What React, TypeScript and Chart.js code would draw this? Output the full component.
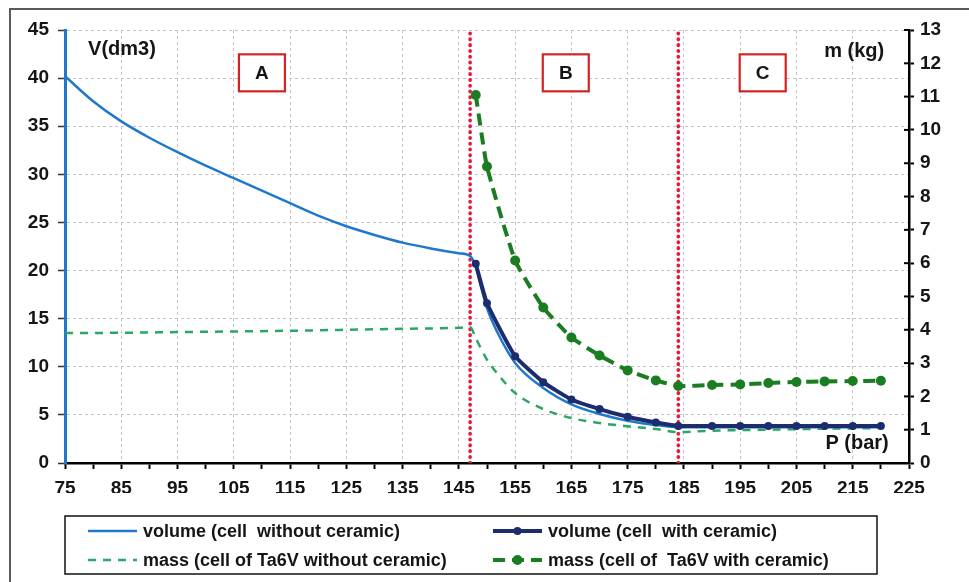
import React, { useEffect, useRef } from 'react';
import { Chart, registerables } from 'chart.js';

Chart.register(...registerables);

// ---- axis ticks ----
const xLabelTicks = [75, 85, 95, 105, 115, 125, 135, 145, 155, 165, 175, 185, 195, 205, 215, 225];
const yLeftTicks = [0, 5, 10, 15, 20, 25, 30, 35, 40, 45];
const yRightTicks = [0, 1, 2, 3, 4, 5, 6, 7, 8, 9, 10, 11, 12, 13];

// ---- volume (cell without ceramic) ----
const pVolNoCer = [75, 80, 85, 90, 95, 100, 105, 110, 115, 120, 125, 130, 135, 140, 145, 147, 148, 149, 150, 152, 155, 160, 165, 170, 175, 180, 184, 190, 200, 210, 220];
const vVolNoCer = [40.2, 37.6, 35.5, 33.8, 32.3, 30.9, 29.6, 28.3, 27.0, 25.7, 24.6, 23.7, 22.9, 22.3, 21.8, 21.5, 20.4, 18.2, 16.1, 13.4, 10.4, 7.8, 6.1, 5.1, 4.4, 3.95, 3.72, 3.72, 3.72, 3.72, 3.72];

// ---- volume (cell with ceramic) ----
const pCer = [148, 150, 155, 160, 165, 170, 175, 180, 184, 190, 195, 200, 205, 210, 215, 220];
const vVolCer = [20.7, 16.6, 11.1, 8.4, 6.6, 5.6, 4.8, 4.2, 3.85, 3.85, 3.85, 3.85, 3.85, 3.85, 3.85, 3.85];

// ---- mass (cell of Ta6V without ceramic) ----
const pMassNoCer = [75, 85, 95, 105, 115, 125, 135, 145, 147, 148, 150, 152, 155, 160, 165, 170, 175, 180, 184, 190, 200, 210, 220];
const mMassNoCer = [3.9, 3.91, 3.93, 3.95, 3.97, 4.0, 4.03, 4.06, 4.08, 3.75, 3.1, 2.65, 2.1, 1.62, 1.35, 1.2, 1.1, 1.02, 0.93, 0.97, 1.0, 1.03, 1.05];

// ---- mass (cell of Ta6V with ceramic) ----
const mMassCer = [11.05, 8.9, 6.08, 4.67, 3.77, 3.23, 2.78, 2.48, 2.31, 2.34, 2.36, 2.4, 2.43, 2.45, 2.46, 2.47];

// ---- zone boundaries and labels ----
const zoneBounds = [147, 184];
const zoneLabels = ['A', 'B', 'C'];
const zoneLabelP = [110, 164, 199];
const zoneLabelV = 40.6;

const legendLabels = [
  'volume (cell  without ceramic)',
  'volume (cell  with ceramic)',
  'mass (cell of Ta6V without ceramic)',
  'mass (cell of  Ta6V with ceramic)',
];

const FONT = '"Liberation Sans", Arial, Helvetica, sans-serif';
const TEXT = '#151515';

const toXY = (xs: number[], ys: number[]) => xs.map((x, i) => ({ x, y: ys[i] }));

const decorPlugin = {
  id: 'decor',
  beforeDraw(chart: any) {
    const { ctx } = chart;
    ctx.save();
    ctx.fillStyle = '#ffffff';
    ctx.fillRect(0, 0, chart.width, chart.height);
    ctx.restore();
  },
  afterDraw(chart: any) {
    const { ctx, scales } = chart;
    const x = scales.x, y = scales.y, y2 = scales.y2;
    ctx.save();

    // outer frame (left & top edges)
    ctx.strokeStyle = '#5a5a5a';
    ctx.lineWidth = 2;
    ctx.beginPath();
    ctx.moveTo(10, chart.height);
    ctx.lineTo(10, 9);
    ctx.lineTo(chart.width, 9);
    ctx.stroke();

    // right axis ticks crossing inward
    ctx.strokeStyle = '#000';
    ctx.lineWidth = 2;
    yRightTicks.forEach((v) => {
      const py = y2.getPixelForValue(v);
      ctx.beginPath();
      ctx.moveTo(y2.left - 5, py);
      ctx.lineTo(y2.left, py);
      ctx.stroke();
    });

    // zone boxes
    zoneLabels.forEach((lab, i) => {
      const cx = x.getPixelForValue(zoneLabelP[i]);
      const cy = y.getPixelForValue(zoneLabelV);
      ctx.fillStyle = '#fff';
      ctx.fillRect(cx - 23, cy - 18, 46, 37);
      ctx.strokeStyle = '#d42222';
      ctx.lineWidth = 2.2;
      ctx.strokeRect(cx - 23, cy - 18, 46, 37);
      ctx.fillStyle = TEXT;
      ctx.font = `bold 19px ${FONT}`;
      ctx.textAlign = 'center';
      ctx.textBaseline = 'middle';
      ctx.fillText(lab, cx, cy + 1);
    });

    // axis titles
    ctx.fillStyle = TEXT;
    ctx.font = `bold 20px ${FONT}`;
    ctx.textBaseline = 'middle';
    ctx.textAlign = 'left';
    ctx.fillText('V(dm3)', x.getPixelForValue(79.1), y.getPixelForValue(43));
    ctx.textAlign = 'right';
    ctx.fillText('m (kg)', x.getPixelForValue(220.6), y2.getPixelForValue(12.35));
    ctx.fillText('P (bar)', x.getPixelForValue(221.4), y2.getPixelForValue(0.6));

    // legend
    const lx0 = 65, ly0 = 516, lx1 = 877, ly1 = 574;
    ctx.strokeStyle = '#111';
    ctx.lineWidth = 1.5;
    ctx.strokeRect(lx0, ly0, lx1 - lx0, ly1 - ly0);
    const cols = [88, 493];
    const rows = [531, 560];
    const slots = [
      [0, 0],
      [1, 0],
      [0, 1],
      [1, 1],
    ];
    ctx.font = `bold 18px ${FONT}`;
    slots.forEach(([c, r], i) => {
      const ds = chart.data.datasets[i];
      const sx = cols[c], sy = rows[r];
      ctx.save();
      ctx.strokeStyle = ds.borderColor;
      ctx.lineWidth = ds.borderWidth;
      ctx.setLineDash(ds.borderDash || []);
      ctx.beginPath();
      ctx.moveTo(sx, sy);
      ctx.lineTo(sx + 49, sy);
      ctx.stroke();
      ctx.restore();
      if (ds.pointRadius > 0) {
        ctx.fillStyle = ds.borderColor;
        ctx.beginPath();
        ctx.arc(sx + 24.5, sy, ds.pointRadius, 0, Math.PI * 2);
        ctx.fill();
      }
      ctx.fillStyle = TEXT;
      ctx.textAlign = 'left';
      ctx.textBaseline = 'middle';
      ctx.fillText(legendLabels[i], sx + 55, sy + 1);
    });

    ctx.restore();
  },
};

export default function App() {
  const ref = useRef<HTMLCanvasElement>(null);

  useEffect(() => {
    const minorTicks: number[] = [];
    for (let i = 0; i < xLabelTicks.length; i++) {
      minorTicks.push(xLabelTicks[i]);
      if (i < xLabelTicks.length - 1) minorTicks.push((xLabelTicks[i] + xLabelTicks[i + 1]) / 2);
    }

    const zoneDatasets = zoneBounds.map((b) => ({
      label: 'zone',
      data: [
        { x: b, y: 0 },
        { x: b, y: 45 },
      ],
      yAxisID: 'y',
      borderColor: '#e8173c',
      borderWidth: 3.6,
      borderDash: [0.5, 5.3],
      borderCapStyle: 'round',
      pointRadius: 0,
      order: 6,
    }));

    const tickFont = { family: FONT, size: 19, weight: 'bold' };

    const chart = new Chart(ref.current as HTMLCanvasElement, {
      type: 'line',
      data: {
        datasets: [
          {
            label: legendLabels[0],
            data: toXY(pVolNoCer, vVolNoCer),
            yAxisID: 'y',
            borderColor: '#1f78cc',
            borderWidth: 2.5,
            pointRadius: 0,
            cubicInterpolationMode: 'monotone',
            order: 3,
          },
          {
            label: legendLabels[1],
            data: toXY(pCer, vVolCer),
            yAxisID: 'y',
            borderColor: '#1c2c6c',
            backgroundColor: '#1c2c6c',
            pointBackgroundColor: '#1c2c6c',
            pointBorderWidth: 0,
            borderWidth: 4,
            pointRadius: 4,
            tension: 0.15,
            order: 1,
          },
          {
            label: legendLabels[2],
            data: toXY(pMassNoCer, mMassNoCer),
            yAxisID: 'y2',
            borderColor: '#2aa765',
            borderWidth: 2.5,
            borderDash: [8, 7],
            pointRadius: 0,
            cubicInterpolationMode: 'monotone',
            order: 4,
          },
          {
            label: legendLabels[3],
            data: toXY(pCer, mMassCer),
            yAxisID: 'y2',
            borderColor: '#1b7d22',
            backgroundColor: '#1b7d22',
            pointBackgroundColor: '#1b7d22',
            pointBorderWidth: 0,
            borderWidth: 4,
            borderDash: [12, 7],
            pointRadius: 5,
            tension: 0.15,
            order: 2,
          },
          ...zoneDatasets,
        ] as any,
      },
      options: {
        animation: false,
        responsive: false,
        maintainAspectRatio: false,
        events: [],
        layout: { padding: { top: 30, left: 0, right: 0, bottom: 89 } },
        plugins: {
          legend: { display: false },
          tooltip: { enabled: false },
        },
        scales: {
          x: {
            type: 'linear',
            min: 75,
            max: 225,
            afterBuildTicks: (s: any) => {
              s.ticks = minorTicks.map((v) => ({ value: v }));
            },
            afterFit: (s: any) => {
              s.height = 30;
            },
            ticks: {
              autoSkip: false,
              maxRotation: 0,
              padding: 8,
              color: TEXT,
              font: tickFont,
              callback: (v: any) => (xLabelTicks.includes(Number(v)) ? String(v) : ''),
            },
            grid: {
              color: (c: any) =>
                c.tick && xLabelTicks.includes(c.tick.value) ? '#c4c4c4' : 'rgba(0,0,0,0)',
              lineWidth: 1,
              tickColor: '#000',
              tickLength: 6,
              tickWidth: 2,
            },
            border: { color: '#000', width: 2.5, dash: [3, 3] },
          },
          y: {
            type: 'linear',
            position: 'left',
            min: 0,
            max: 45,
            afterBuildTicks: (s: any) => {
              s.ticks = yLeftTicks.map((v) => ({ value: v }));
            },
            afterFit: (s: any) => {
              s.width = 65;
            },
            ticks: {
              padding: 9,
              color: TEXT,
              font: tickFont,
            },
            grid: {
              color: '#c4c4c4',
              lineWidth: 1,
              tickColor: '#333',
              tickLength: 7,
              tickWidth: 1.5,
            },
            border: { color: '#1f78cc', width: 3, dash: [3, 3] },
          },
          y2: {
            type: 'linear',
            position: 'right',
            min: 0,
            max: 13,
            afterBuildTicks: (s: any) => {
              s.ticks = yRightTicks.map((v) => ({ value: v }));
            },
            afterFit: (s: any) => {
              s.width = 60;
            },
            ticks: {
              padding: 6,
              color: TEXT,
              font: tickFont,
            },
            grid: {
              drawOnChartArea: false,
              tickColor: '#000',
              tickLength: 5,
              tickWidth: 2,
            },
            border: { color: '#000', width: 2.5 },
          },
        },
      } as any,
      plugins: [decorPlugin],
    });
    return () => chart.destroy();
  }, []);

  return (
    <div style={{ position: 'absolute', left: 0, top: 0, width: 969, height: 582, background: '#fff' }}>
      <canvas ref={ref} width={969} height={582} style={{ display: 'block', width: 969, height: 582 }} />
    </div>
  );
}
